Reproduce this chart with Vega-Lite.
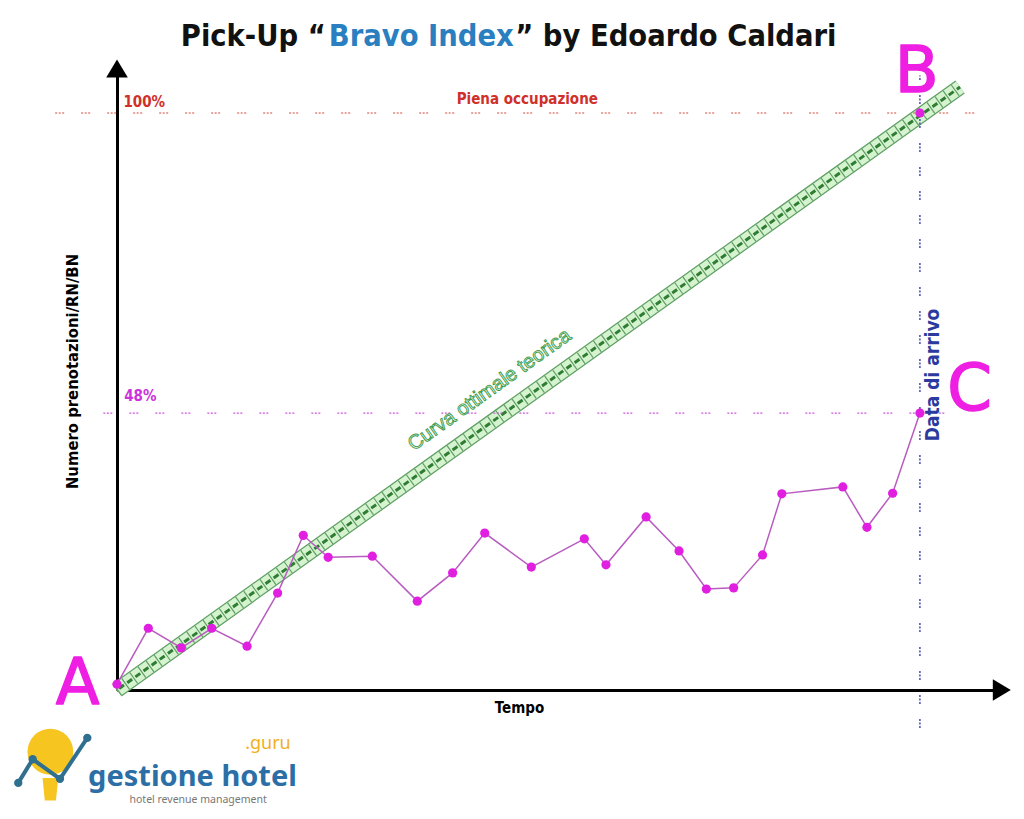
{
  "$schema": "https://vega.github.io/schema/vega-lite/v6.json",
  "width": 880,
  "height": 622,
  "autosize": {"type": "none"},
  "padding": {"left": 117, "top": 68, "right": 27, "bottom": 129},
  "background": "white",
  "config": {"view": {"stroke": null}},
  "datasets": {
    "pickup": [
      {"x": 0, "y": 1}, {"x": 3.9, "y": 10.7}, {"x": 8.0, "y": 7.3}, {"x": 11.8, "y": 10.7},
      {"x": 16.2, "y": 7.6}, {"x": 20.0, "y": 16.8}, {"x": 23.2, "y": 26.8}, {"x": 26.3, "y": 23.0},
      {"x": 31.8, "y": 23.2}, {"x": 37.4, "y": 15.4}, {"x": 41.8, "y": 20.3}, {"x": 45.8, "y": 27.2},
      {"x": 51.6, "y": 21.3}, {"x": 58.2, "y": 26.2}, {"x": 60.9, "y": 21.7}, {"x": 65.9, "y": 30.0},
      {"x": 70.0, "y": 24.1}, {"x": 73.4, "y": 17.5}, {"x": 76.8, "y": 17.7}, {"x": 80.4, "y": 23.4},
      {"x": 82.8, "y": 34.0}, {"x": 90.4, "y": 35.2}, {"x": 93.4, "y": 28.2}, {"x": 96.6, "y": 34.1},
      {"x": 100, "y": 48}
    ],
    "diag": [{"x": 0, "y": 0}, {"x": 105, "y": 104.5}],
    "logoLine": [{"x": -12.3, "y": -16.1}, {"x": -10.5, "y": -12.0}, {"x": -7.1, "y": -15.4}, {"x": -3.7, "y": -8.3}]
  },
  "encoding": {
    "x": {"field": "x", "type": "quantitative", "scale": {"domain": [0, 109.6], "nice": false, "zero": false},
      "axis": {"domain": true, "domainColor": "black", "domainWidth": 3, "ticks": false, "labels": false, "grid": false,
        "title": "Tempo", "titleFont": "Liberation Sans Narrow, DejaVu Sans Condensed, sans-serif", "titleFontSize": 15, "titleFontWeight": "bold", "titleColor": "black",
        "titleX": 402, "titleY": 17, "titleBaseline": "middle", "titleAlign": "center"}},
    "y": {"field": "y", "type": "quantitative", "scale": {"domain": [0, 107.8], "nice": false, "zero": false},
      "axis": {"domain": true, "domainColor": "black", "domainWidth": 3, "ticks": false, "labels": false, "grid": false,
        "title": "Numero prenotazioni/RN/BN", "titleFont": "Liberation Sans Narrow, DejaVu Sans Condensed, sans-serif", "titleFontSize": 16.5, "titleFontWeight": "bold", "titleColor": "black",
        "titleX": -45, "titleY": 303, "titleAngle": -90, "titleBaseline": "middle", "titleAlign": "center"}}
  },
  "layer": [
    {"data": {"name": "diag"}, "mark": {"type": "line", "clip": false, "stroke": "#5f9f65", "strokeWidth": 16, "strokeCap": "butt"}},
    {"data": {"name": "diag"}, "mark": {"type": "line", "clip": false, "stroke": "#d6f3d0", "strokeWidth": 13.5, "strokeCap": "butt"}},
    {"data": {"name": "diag"}, "mark": {"type": "line", "clip": false, "stroke": "#5f9f65", "strokeWidth": 13.5, "strokeCap": "butt", "strokeDash": [1.2, 8.8]}},
    {"data": {"name": "diag"}, "mark": {"type": "line", "clip": false, "stroke": "#2e7d32", "strokeWidth": 3, "strokeCap": "butt", "strokeDash": [6, 4], "strokeDashOffset": -2.6}},
    {"data": {"values": [{"x": -7.7, "x2": 107.5, "y": 100}]}, "mark": {"type": "rule", "clip": false, "stroke": "#d24a3c", "strokeWidth": 1.2, "strokeDash": [2, 1.5, 2, 1.5, 2, 17]},
      "encoding": {"x2": {"field": "x2"}}},
    {"data": {"values": [{"x": -1.7, "x2": 104, "y": 48}]}, "mark": {"type": "rule", "clip": false, "stroke": "#cc55dd", "strokeWidth": 1.2, "strokeDash": [2, 1.5, 2, 1.5, 2, 17]},
      "encoding": {"x2": {"field": "x2"}}},
    {"data": {"values": [{"x": 100, "y": -6.6, "y2": 106.5}]}, "mark": {"type": "rule", "clip": false, "stroke": "#4a4ab8", "strokeWidth": 1.5, "strokeDash": [2, 1.5, 2, 1.5, 2, 15]},
      "encoding": {"y2": {"field": "y2"}}},
    {"data": {"name": "pickup"}, "mark": {"type": "line", "clip": false, "stroke": "#b85cc0", "strokeWidth": 1.5}},
    {"data": {"name": "pickup"}, "mark": {"type": "point", "clip": false, "filled": true, "fill": "#e01fe0", "opacity": 1, "size": 85, "shape": "circle"}},
    {"data": {"values": [{"x": 100, "y": 100}]}, "mark": {"type": "point", "clip": false, "filled": true, "fill": "#e01fe0", "opacity": 1, "size": 85, "shape": "circle"}},
    {"data": {"values": [{"x": 46.4, "y": 52.0, "label": "Curva ottimale teorica"}]},
      "mark": {"type": "text", "clip": false, "font": "Liberation Sans, Arial, sans-serif", "fontSize": 20, "angle": 324.5, "fill": "#e8f8e6", "stroke": "#3c9a4a", "strokeWidth": 0.9, "align": "center", "baseline": "middle"},
      "encoding": {"text": {"field": "label"}}},
    {"data": {"values": [{"x": 0.8, "y": 101.9, "label": "100%"}]},
      "mark": {"type": "text", "clip": false, "font": "Liberation Sans Narrow, DejaVu Sans Condensed, sans-serif", "fontSize": 15, "fontWeight": "bold", "fill": "#d0302a", "align": "left", "baseline": "middle"},
      "encoding": {"text": {"field": "label"}}},
    {"data": {"values": [{"x": 51.1, "y": 102.4, "label": "Piena occupazione"}]},
      "mark": {"type": "text", "clip": false, "font": "Liberation Sans Narrow, DejaVu Sans Condensed, sans-serif", "fontSize": 15, "fontWeight": "bold", "fill": "#d0302a", "align": "center", "baseline": "middle"},
      "encoding": {"text": {"field": "label"}}},
    {"data": {"values": [{"x": 0.9, "y": 51, "label": "48%"}]},
      "mark": {"type": "text", "clip": false, "font": "Liberation Sans Narrow, DejaVu Sans Condensed, sans-serif", "fontSize": 15, "fontWeight": "bold", "fill": "#cc33dd", "align": "left", "baseline": "middle"},
      "encoding": {"text": {"field": "label"}}},
    {"data": {"values": [{"x": 101.6, "y": 54.6, "label": "Data di arrivo"}]},
      "mark": {"type": "text", "clip": false, "font": "Liberation Sans Narrow, DejaVu Sans Condensed, sans-serif", "fontSize": 19, "fontWeight": "bold", "fill": "#2b3a9f", "angle": 270, "align": "center", "baseline": "middle"},
      "encoding": {"text": {"field": "label"}}},
    {"data": {"values": [{"x": -4.9, "y": 0.9, "label": "A"}, {"x": 99.6, "y": 106.9, "label": "B"}, {"x": 106.2, "y": 51.8, "label": "C"}]},
      "mark": {"type": "text", "clip": false, "font": "DejaVu Sans, sans-serif", "fontSize": 64, "fill": "#ee1fe2", "stroke": "#ee1fe2", "strokeWidth": 1.5, "strokeJoin": "round", "align": "center", "baseline": "middle"},
      "encoding": {"text": {"field": "label"}}},
    {"data": {"values": [{"x": 26.0, "y": 113.2, "label": "Pick-Up “"}]},
      "mark": {"type": "text", "clip": false, "font": "Liberation Sans Narrow, DejaVu Sans Condensed, sans-serif", "fontSize": 30.5, "fontWeight": "bold", "fill": "#111111", "align": "right", "baseline": "middle"},
      "encoding": {"text": {"field": "label"}}},
    {"data": {"values": [{"x": 37.9, "y": 113.2, "label": "Bravo Index"}]},
      "mark": {"type": "text", "clip": false, "font": "Liberation Sans Narrow, DejaVu Sans Condensed, sans-serif", "fontSize": 30.5, "fontWeight": "bold", "fill": "#2a7fc0", "align": "center", "baseline": "middle"},
      "encoding": {"text": {"field": "label"}}},
    {"data": {"values": [{"x": 49.6, "y": 113.2, "label": "” by Edoardo Caldari"}]},
      "mark": {"type": "text", "clip": false, "font": "Liberation Sans Narrow, DejaVu Sans Condensed, sans-serif", "fontSize": 30.5, "fontWeight": "bold", "fill": "#111111", "align": "left", "baseline": "middle"},
      "encoding": {"text": {"field": "label"}}},
    {"data": {"values": [{"x": 0, "y": 107.7}]},
      "mark": {"type": "point", "clip": false, "filled": true, "fill": "black", "opacity": 1, "strokeWidth": 0, "size": 324, "shape": "M-1.2,1L0,-1L1.2,1Z"}},
    {"data": {"values": [{"x": 110.2, "y": 0}]},
      "mark": {"type": "point", "clip": false, "filled": true, "fill": "black", "opacity": 1, "strokeWidth": 0, "size": 324, "shape": "M-1,-1.2L1,0L-1,1.2Z"}},
    {"data": {"values": [{"x": -8.3, "y": -17.2}]},
      "mark": {"type": "point", "clip": false, "filled": true, "fill": "#f7c520", "opacity": 1, "strokeWidth": 0, "size": 500, "shape": "M-0.7,-1L0.7,-1L0.5,1L-0.5,1Z"}},
    {"data": {"values": [{"x": -8.3, "y": -10.7}]},
      "mark": {"type": "point", "clip": false, "filled": true, "fill": "#f7c520", "opacity": 1, "strokeWidth": 0, "size": 2100, "shape": "circle"}},
    {"data": {"name": "logoLine"}, "mark": {"type": "line", "clip": false, "stroke": "#2f6f8f", "strokeWidth": 4}},
    {"data": {"name": "logoLine"}, "mark": {"type": "point", "clip": false, "filled": true, "fill": "#2f6f8f", "opacity": 1, "size": 70, "shape": "circle"}},
    {"data": {"values": [{"x": -3.6, "y": -16.6, "label": "gestione hotel"}]},
      "mark": {"type": "text", "clip": false, "font": "Noto Sans, Open Sans, sans-serif", "fontSize": 29, "fontWeight": "bold", "fill": "#2c6fa6", "align": "left", "baseline": "alphabetic"},
      "encoding": {"text": {"field": "label"}}},
    {"data": {"values": [{"x": 18.8, "y": -10.3, "label": ".guru"}]},
      "mark": {"type": "text", "clip": false, "font": "Noto Sans, Open Sans, sans-serif", "fontSize": 18, "fill": "#f2b01e", "align": "center", "baseline": "alphabetic"},
      "encoding": {"text": {"field": "label"}}},
    {"data": {"values": [{"x": 10.1, "y": -19.1, "label": "hotel revenue management"}]},
      "mark": {"type": "text", "clip": false, "font": "Noto Sans, Open Sans, sans-serif", "fontSize": 10.5, "fill": "#777777", "align": "center", "baseline": "middle"},
      "encoding": {"text": {"field": "label"}}}
  ]
}
